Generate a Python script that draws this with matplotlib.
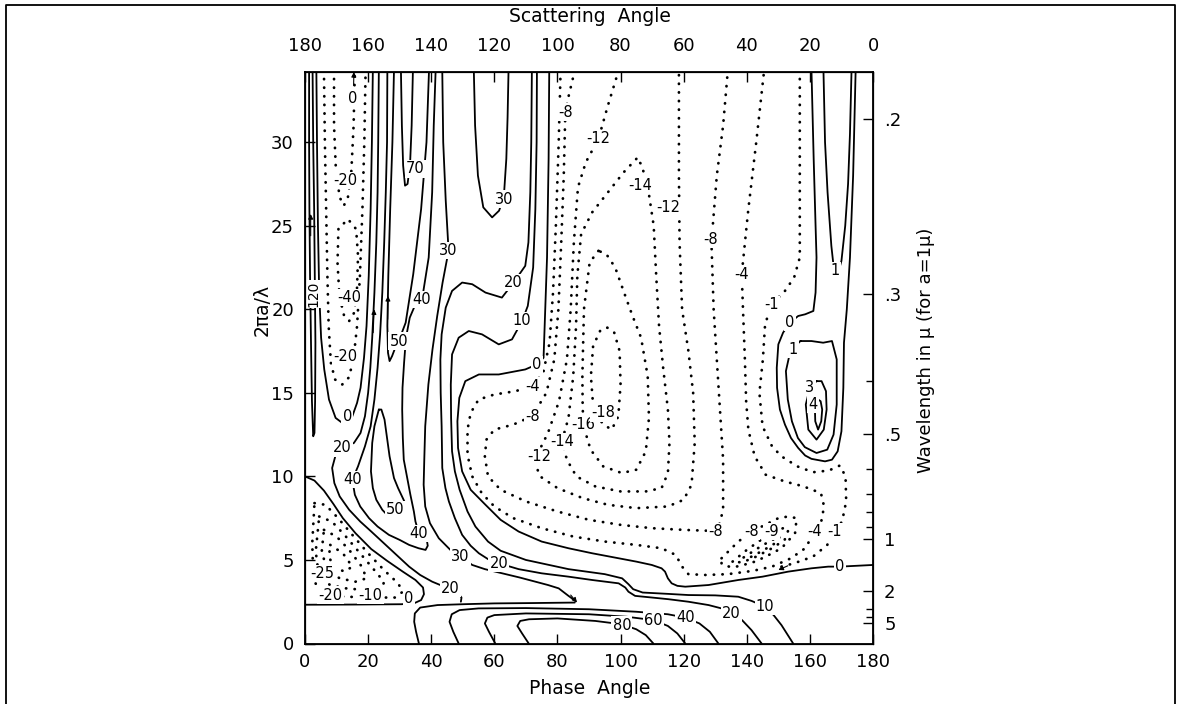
import matplotlib
matplotlib.use("Agg")
import matplotlib.pyplot as plt
from matplotlib.lines import Line2D

W, H = 1177, 704

# ---- isolines: (phase angle [deg], 2*pi*a/lambda) ----
# upper-left band
pos_spine20 = [(1.3, 34.3), (1.3, 30), (1.4, 26), (1.6, 22), (1.9, 18), (2.2, 14.5), (2.6, 12.4),
               (3.0, 12.6), (3.2, 14.5), (3.3, 18), (3.1, 22), (2.9, 26), (2.6, 30), (2.4, 34.3)]
zero_left_u = [(3.6, 34.3), (3.8, 30), (4.1, 25), (4.5, 21), (5.1, 18.3), (6.1, 16.4), (7.6, 14.6),
               (9.7, 13.5), (11.8, 13.2), (13.4, 13.3), (15.0, 13.6), (16.5, 14.4), (17.6, 15.3),
               (18.7, 17.1), (19.5, 19), (20.2, 22), (20.8, 26), (21.2, 30), (21.5, 34.3)]
neg20_outer = [(6.0, 34.3), (6.3, 30), (6.7, 26), (7.1, 22), (7.5, 19), (8.2, 16.8), (9.5, 15.8),
               (11.8, 15.5), (13.8, 15.9), (15.3, 16.9), (16.5, 19), (17.4, 22), (18.2, 26),
               (18.8, 30), (19.2, 34.3)]
neg40_loop = [(10.6, 24.8), (10.3, 22.8), (10.9, 20.8), (12.4, 19.6), (14.0, 19.3), (15.6, 19.8),
              (16.5, 21.3), (16.8, 23.2), (16.2, 24.8), (13.6, 25.4), (10.6, 24.8)]
neg20_top = [(9.2, 34.3), (9.2, 31), (9.8, 28.3), (11.0, 26.7), (12.3, 26.2), (13.6, 26.7),
             (14.7, 28.3), (15.4, 31), (15.8, 34.3)]
c20_chevron = [(23.4, 34.3), (23.2, 30), (23.0, 27), (22.6, 24), (22.0, 21), (21.3, 18.3), (20.7, 16.5),
               (20.0, 15.0), (19.0, 13.6), (17.6, 12.6), (15.5, 12.0), (11.8, 11.7), (9.6, 11.2),
               (8.6, 10.5), (9.3, 9.6), (11.0, 8.8), (14.0, 8.0), (17.5, 7.3), (21.0, 6.7), (25.0, 6.0),
               (29.0, 5.3), (33.0, 4.6), (36.5, 4.1), (40.3, 3.7), (43.5, 3.45), (46.1, 3.3),
               (48.5, 3.0), (49.6, 2.75), (49.4, 2.5)]
c40_loop = [(26.1, 34.3), (26.0, 30), (25.6, 27), (25.1, 24), (24.5, 21), (23.8, 18.5), (23.0, 16.5),
            (22.0, 14.6), (20.8, 13.0), (19.0, 11.8), (16.8, 10.6), (15.0, 9.8), (15.8, 8.9),
            (17.5, 8.2), (20.3, 7.5), (23.0, 7.0), (26.6, 6.5), (30.0, 6.2), (33.0, 5.9), (36.0, 5.7),
            (38.2, 5.6), (38.9, 5.85), (38.5, 6.3), (36.1, 6.6), (35.0, 7.3), (34.5, 7.9), (33.4, 8.9),
            (32.4, 9.9), (31.3, 11.0), (31.0, 12.3), (30.8, 14.0), (30.9, 15.3), (31.4, 16.8),
            (32.0, 18.3), (33.2, 19.5), (35.0, 20.3), (37.1, 20.6), (39.2, 23.1), (40.3, 27.0),
            (40.8, 31.0), (41.4, 34.3)]
c50_drop = [(23.4, 14.0), (22.0, 13.0), (21.3, 12.0), (20.9, 10.3), (21.5, 9.3), (22.6, 8.6),
            (24.5, 8.0), (26.5, 7.6), (28.7, 7.6), (31.0, 8.0), (31.5, 8.5), (29.5, 9.3), (28.2, 9.9),
            (26.8, 11.2), (26.0, 12.3), (25.2, 13.4), (24.2, 14.0), (23.4, 14.0)]
c50_u = [(28.2, 34.3), (27.7, 30), (27.0, 26), (26.4, 22), (26.1, 19), (26.3, 17.4), (26.8, 16.9),
         (27.6, 17.2), (29.0, 17.9), (29.7, 18.1), (31.9, 19.2), (34.3, 22.1), (36.8, 26.0),
         (38.5, 30.0), (39.3, 34.3)]
c70_u = [(30.4, 34.3), (30.7, 31), (31.1, 28.6), (31.7, 27.4), (32.5, 27.5), (33.3, 28.7),
         (33.8, 31), (34.2, 34.3)]
c30_line = [(43.5, 34.3), (43.8, 30), (44.6, 26.5), (45.5, 23.5), (43.6, 21.6), (41.9, 19.6),
            (40.4, 17.6), (39.1, 15.5), (38.1, 13.0), (37.8, 11.0), (37.6, 9.5), (38.1, 8.2),
            (39.6, 7.2), (42.4, 6.3), (46.6, 5.5), (49.3, 5.2), (53.0, 4.7), (57.0, 4.45),
            (62.5, 4.2), (68.0, 3.95), (73.0, 3.7), (77.0, 3.5), (80.4, 3.3), (83.5, 2.85), (85.7, 2.55)]
c30_u = [(53.5, 34.3), (53.9, 31), (54.8, 28), (56.5, 26.1), (59.3, 25.5), (61.5, 25.9), (63.0, 26.7),
         (63.8, 29), (64.2, 31.5), (64.5, 34.3)]
c20_wave = [(71.9, 34.3), (71.7, 30), (71.4, 27), (70.8, 24), (69.8, 22.6), (66.1, 21.6), (62.4, 20.7),
            (57.2, 21.0), (53.0, 21.5), (49.8, 21.6), (46.6, 21.1), (44.6, 20.1), (43.3, 18.5),
            (42.9, 17.0), (43.0, 15.0), (43.3, 13.0), (43.5, 10.5), (44.5, 9.3), (45.6, 8.5),
            (47.5, 7.5), (49.8, 6.5), (52.5, 5.85), (55.1, 5.4), (58.0, 5.05), (61.4, 4.8),
            (67.7, 4.45), (75.0, 4.2), (83.5, 4.0), (91.0, 3.8), (99.4, 3.6), (101.5, 3.35),
            (102.5, 3.1), (104.6, 2.85), (110.0, 2.75), (115.2, 2.65), (121.5, 2.5), (127.9, 2.3),
            (132.0, 2.1), (135.2, 1.8), (138.5, 1.4), (141.5, 0.8), (144.7, 0.0)]
c10_wave = [(73.5, 34.3), (73.4, 30), (73.0, 26), (72.3, 22.5), (70.6, 20.2), (68.8, 19.3),
            (65.6, 18.2), (61.4, 17.9), (56.1, 18.5), (51.9, 18.7), (48.7, 18.3), (46.6, 17.3),
            (46.2, 15.5), (46.3, 13.5), (46.6, 11.5), (47.5, 10.3), (49.0, 9.2), (51.5, 7.9),
            (54.0, 7.0), (58.0, 6.1), (62.0, 5.55), (70.0, 5.0), (83.5, 4.45), (95.0, 4.15),
            (100.5, 3.9), (102.5, 3.55), (104.0, 3.25), (107.0, 3.05), (115.0, 2.97), (121.5, 2.9),
            (130.0, 2.88), (137.3, 2.8), (141.5, 2.55), (145.8, 2.2), (148.5, 1.7), (151.0, 1.1),
            (154.7, 0.0)]
c0_mid = [(77.4, 34.3), (77.2, 29), (76.7, 23.1), (75.6, 17.1), (73.5, 16.7), (69.8, 16.4),
          (61.4, 16.1), (55.1, 16.1), (50.8, 15.7), (48.9, 14.7), (48.3, 13.3), (48.5, 11.7),
          (49.8, 10.3), (52.5, 9.2), (57.2, 8.3), (62.0, 7.4), (67.7, 6.7), (75.0, 6.1), (83.5, 5.7),
          (91.0, 5.4), (99.4, 5.1), (105.0, 4.9), (109.9, 4.7), (113.0, 4.5), (114.1, 4.3),
          (115.0, 3.9), (116.2, 3.6), (118.0, 3.45), (120.5, 3.4), (127.9, 3.5), (137.3, 3.8),
          (145.0, 4.0), (153.1, 4.3), (160.5, 4.5), (165.8, 4.6), (169.5, 4.6), (180.0, 4.7)]

# lower-left negative pocket
zero_lowleft = [(0.0, 10.0), (3.0, 9.75), (6.0, 9.15), (9.0, 8.35), (12.0, 7.5), (16.0, 6.6),
                (21.0, 5.65), (26.0, 4.95), (31.0, 4.3), (35.0, 3.8), (37.4, 3.35), (37.7, 2.95),
                (36.8, 2.6), (34.5, 2.4), (30.5, 2.35), (15.0, 2.33), (0.0, 2.32)]
neg10_ll = [(3.0, 8.4), (6.5, 8.3), (10.5, 7.5), (15.0, 6.5), (20.0, 5.4), (25.0, 4.4), (29.5, 3.6),
            (31.0, 3.1), (28.5, 2.75), (20.8, 2.75), (13.0, 2.8), (8.1, 2.85), (4.5, 3.0),
            (2.6, 4.0), (2.3, 6.0), (3.0, 8.4)]
neg20_ll = [(4.5, 7.6), (8.5, 7.3), (12.5, 6.5), (17.0, 5.5), (21.5, 4.5), (25.0, 3.7), (24.5, 3.2),
            (19.0, 3.2), (13.0, 3.3), (8.0, 3.5), (4.5, 3.9), (3.4, 5.5), (4.5, 7.6)]
neg25_ll = [(6.0, 6.8), (10.0, 6.4), (14.0, 5.6), (18.0, 4.6), (19.5, 3.9), (16.0, 3.7), (11.0, 3.9),
            (7.0, 4.4), (5.3, 5.5), (6.0, 6.8)]
neg30_ll = [(8.0, 5.9), (12.0, 5.4), (15.0, 4.6), (12.5, 4.3), (9.0, 4.6), (7.6, 5.2), (8.0, 5.9)]

# bottom arches (small particles)
c30_arch = [(36.1, 0.0), (35.2, 0.7), (34.6, 1.3), (34.8, 1.8), (36.5, 2.15), (42.0, 2.3),
            (50.0, 2.35), (60.0, 2.4), (72.0, 2.42), (85.5, 2.45)]
c40_arch = [(48.7, 0.0), (47.0, 0.7), (45.8, 1.3), (46.5, 1.75), (49.0, 2.0), (55.0, 2.1), (70.0, 2.12),
            (90.0, 2.05), (105.0, 1.9), (115.0, 1.75), (120.5, 1.55), (125.0, 1.2), (128.3, 0.7),
            (131.0, 0.0)]
c60_arch = [(60.3, 0.0), (58.3, 0.7), (57.0, 1.2), (57.8, 1.55), (60.0, 1.7), (70.0, 1.8), (90.0, 1.75),
            (102.0, 1.6), (110.4, 1.4), (115.0, 1.05), (118.0, 0.6), (120.5, 0.0)]
c80_arch = [(70.9, 0.0), (68.8, 0.6), (67.3, 1.05), (68.2, 1.35), (71.0, 1.45), (80.0, 1.5),
            (92.0, 1.35), (100.4, 1.15), (105.0, 0.85), (108.0, 0.5), (110.4, 0.0)]

# central negative basin
neg4 = [(81.0, 34.3), (80.4, 30), (79.5, 25), (78.6, 21), (77.5, 18), (75.5, 16.2), (72.0, 15.4),
        (66.7, 15.1), (60.0, 14.9), (55.0, 14.6), (52.5, 13.8), (51.5, 12.8), (51.5, 11.3), (53.0, 10.0),
        (56.0, 9.0), (60.0, 8.2), (66.0, 7.5), (75.0, 6.9), (85.0, 6.4), (95.0, 6.1), (105.0, 5.9),
        (113.0, 5.7), (117.5, 5.3), (119.5, 4.6), (121.5, 4.15), (127.0, 4.1), (134.0, 4.15),
        (142.0, 4.35), (148.0, 4.6), (154.0, 5.1), (158.5, 5.7), (161.6, 6.7), (163.6, 7.3),
        (164.5, 8.2), (163.5, 9.0), (158.0, 9.4), (152.0, 9.7), (146.0, 10.1), (142.5, 11.2),
        (140.5, 12.8), (139.8, 14.5), (139.4, 17.0), (138.8, 20.0), (138.4, 22.1), (140.5, 26.0),
        (143.0, 30.0), (145.5, 34.3)]
neg8 = [(85.5, 34.3), (83.6, 32.8), (82.5, 31.8), (82.0, 28.0), (81.2, 24.0), (80.3, 20.0), (79.0, 17.0),
        (76.5, 15.0), (72.0, 13.6), (66.0, 13.1), (60.0, 12.8), (57.5, 12.2), (57.0, 11.2), (58.0, 10.0),
        (62.0, 9.2), (70.0, 8.5), (80.0, 7.9), (90.0, 7.4), (100.0, 7.1), (110.0, 6.9), (120.0, 6.8),
        (127.0, 6.75), (131.0, 6.9), (132.5, 8.0), (132.5, 11.0), (131.5, 14.0), (130.5, 17.0),
        (129.5, 20.0), (128.8, 24.0), (130.5, 28.0), (132.5, 31.0), (134.0, 34.3)]
neg12 = [(99.4, 34.3), (96.0, 32.2), (93.0, 30.2), (89.0, 28.8), (86.5, 27.3), (85.2, 24.0), (84.2, 20.0),
         (83.0, 17.0), (80.5, 14.5), (77.0, 12.6), (74.1, 11.5), (72.9, 10.8), (74.5, 10.0), (80.0, 9.3),
         (88.0, 8.7), (96.0, 8.3), (105.0, 8.1), (115.0, 8.2), (120.0, 8.6), (122.5, 9.5), (123.5, 12.0),
         (123.0, 15.0), (121.5, 17.5), (119.5, 20.0), (118.7, 24.0), (118.5, 28.0), (118.5, 34.3)]
neg14 = [(105.0, 29.0), (101.0, 28.2), (96.0, 27.0), (91.0, 25.8), (87.5, 24.5), (86.3, 22.0),
         (85.9, 19.0), (85.0, 16.0), (83.5, 13.5), (81.4, 12.1), (83.0, 11.0), (86.0, 10.0), (92.0, 9.4),
         (100.0, 9.1), (108.0, 9.1), (113.0, 9.3), (115.0, 10.2), (115.5, 12.0), (115.0, 14.0),
         (113.5, 16.5), (112.2, 19.0), (111.3, 22.0), (110.5, 25.0), (108.5, 27.5), (106.5, 28.7),
         (105.0, 29.0)]
neg16 = [(93.0, 23.5), (90.2, 22.8), (88.4, 20.0), (87.9, 16.0), (88.0, 14.0), (88.6, 12.8), (90.5, 11.6),
         (94.5, 10.6), (100.4, 10.2), (105.0, 10.4), (108.0, 11.5), (109.0, 13.5), (108.6, 16.0),
         (106.5, 18.3), (103.8, 19.6), (101.5, 20.8), (98.3, 22.5), (95.5, 23.3), (93.0, 23.5)]
neg18 = [(93.5, 18.7), (91.3, 17.8), (90.6, 16.0), (91.2, 14.5), (92.6, 13.6), (94.6, 13.1), (97.2, 12.8),
         (99.3, 13.6), (100.0, 15.5), (99.7, 17.5), (98.0, 18.6), (95.8, 18.9), (93.5, 18.7)]
neg8_small = [(132.0, 5.1), (137.3, 6.1), (141.6, 6.7), (145.8, 7.1), (150.0, 7.5), (153.1, 7.6),
              (155.8, 7.5), (155.3, 6.6), (151.0, 5.7), (146.0, 5.2), (142.6, 4.9), (138.0, 4.65),
              (135.2, 4.55), (132.0, 4.75), (132.0, 5.1)]
neg9_small = [(135.5, 4.9), (140.0, 5.6), (144.5, 6.2), (147.9, 6.6), (151.5, 6.9), (153.3, 6.85),
              (152.0, 6.2), (148.0, 5.7), (143.0, 5.2), (138.5, 4.85), (135.5, 4.9)]
neg10_small = [(139.0, 5.15), (143.5, 5.7), (147.5, 6.15), (150.5, 6.4), (149.0, 6.0), (145.0, 5.55),
               (141.0, 5.15), (139.0, 5.15)]

# near-forward lobe
neg1 = [(156.8, 34.3), (156.8, 28), (156.8, 23.1), (155.0, 21.9), (152.1, 21.1), (147.9, 20.3),
        (145.8, 19.1), (145.1, 17.0), (144.0, 15.0), (145.0, 13.0), (148.0, 11.8), (151.0, 11.2),
        (156.0, 10.6), (161.0, 10.25), (166.0, 10.35), (169.5, 10.65), (171.3, 10.0), (171.5, 8.5),
        (170.2, 7.3), (167.9, 6.7), (165.5, 5.9), (161.0, 5.2), (155.0, 4.8), (149.0, 4.5)]
zero_lobe = [(160.5, 34.3), (161.2, 29), (161.8, 25), (162.1, 23.1), (161.8, 21), (161.1, 19.9),
             (158.5, 19.7), (156.3, 19.6), (153.7, 19.2), (151.5, 18.6), (150.0, 17.9), (149.5, 16.5),
             (149.6, 15.3), (150.5, 14.0), (152.1, 13.1), (154.0, 12.3), (156.3, 11.7), (158.5, 11.25),
             (160.5, 11.05), (164.8, 10.9), (167.0, 11.0), (168.8, 11.5), (170.0, 12.7), (170.6, 15.3),
             (170.8, 18.0), (171.7, 20.0), (172.7, 23.1), (173.7, 28.0), (174.5, 34.3)]
one_u = [(164.3, 34.3), (164.8, 30), (165.6, 27), (166.8, 23.8), (167.9, 21.9), (169.0, 22.2),
         (170.0, 22.9), (171.2, 25.0), (172.1, 27.5), (172.7, 30.5), (173.2, 34.3)]
one_loop = [(157.0, 18.1), (153.8, 17.5), (152.4, 16.3), (153.0, 14.6), (154.3, 13.3), (156.2, 12.3),
            (158.4, 11.75), (162.1, 11.4), (165.5, 11.6), (167.5, 12.5), (168.5, 14.3), (168.5, 17.0),
            (167.0, 18.1), (164.2, 18.0), (160.5, 18.1), (157.0, 18.1)]
three_loop = [(162.1, 15.7), (160.0, 15.3), (158.7, 14.3), (159.5, 12.8), (162.1, 12.2), (164.4, 12.8),
              (165.3, 14.0), (165.1, 15.1), (163.7, 15.7), (162.1, 15.7)]
four_loop = [(162.6, 14.6), (161.6, 14.0), (161.7, 13.3), (162.6, 12.8), (163.6, 13.3), (163.9, 14.0),
             (163.4, 14.5), (162.6, 14.6)]

curves = [
    (20, pos_spine20), (0, zero_left_u), (-20, neg20_outer), (-40, neg40_loop), (-20, neg20_top),
    (20, c20_chevron), (40, c40_loop), (50, c50_drop), (50, c50_u), (70, c70_u), (30, c30_line),
    (30, c30_u), (20, c20_wave), (10, c10_wave), (0, c0_mid),
    (0, zero_lowleft), (-10, neg10_ll), (-20, neg20_ll), (-25, neg25_ll), (-30, neg30_ll),
    (30, c30_arch), (40, c40_arch), (60, c60_arch), (80, c80_arch),
    (-4, neg4), (-8, neg8), (-12, neg12), (-14, neg14), (-16, neg16), (-18, neg18),
    (-8, neg8_small), (-9, neg9_small), (-10, neg10_small),
    (-1, neg1), (0, zero_lobe), (1, one_u), (1, one_loop), (3, three_loop), (4, four_loop),
]

# contour labels as lettered on the original
label_text = ["0", "-20", "70", "30", "30", "40", "50", "20", "10", "-40", "-20", "0", "20", "40",
              "50", "40", "30", "20", "20", "0", "-25", "-20", "-10",
              "-8", "-12", "-14", "-12", "-8", "-4", "-1", "0", "1", "1", "3", "4",
              "0", "-4", "-8", "-12", "-14", "-16", "-18",
              "-8", "-8", "-9", "-4", "-1", "0", "10", "20", "40", "60", "80"]
label_phase = [15.0, 12.8, 35.0, 63.2, 45.5, 37.1, 29.7, 66.1, 68.8, 14.0, 12.8, 13.4, 11.8, 15.0,
               28.7, 36.1, 49.3, 61.4, 46.1, 32.9, 5.5, 8.1, 20.8,
               82.5, 93.0, 106.2, 115.2, 128.4, 138.4, 147.9, 153.7, 167.9, 154.7, 160.0, 161.0,
               73.5, 72.0, 72.0, 74.1, 81.4, 88.3, 94.6,
               130.0, 141.6, 147.9, 161.6, 167.9, 169.5, 145.8, 135.2, 120.5, 110.4, 100.4]
label_size = [32.6, 27.7, 28.4, 26.6, 23.5, 20.6, 18.1, 21.6, 19.3, 20.7, 17.2, 13.6, 11.7, 9.8,
              8.0, 6.6, 5.2, 4.8, 3.3, 2.7, 4.2, 2.9, 2.9,
              31.8, 30.2, 27.4, 26.1, 24.2, 22.1, 20.3, 19.2, 22.3, 17.6, 15.3, 14.3,
              16.7, 15.4, 13.6, 11.2, 12.1, 13.1, 13.8,
              6.7, 6.7, 6.7, 6.7, 6.7, 4.6, 2.2, 1.8, 1.55, 1.4, 1.1]

# little guide arrows drawn on the original (tail -> head)
arrow_tail = [(1.8, 24.4), (21.6, 18.6), (26.2, 19.4), (84.2, 2.9), (153.0, 4.65), (15.4, 33.4)]
arrow_head = [(1.8, 25.7), (21.9, 20.0), (26.3, 20.8), (86.2, 2.45), (150.0, 4.4), (15.5, 34.2)]

phase_ticks = list(range(0, 181, 20))
size_ticks = list(range(0, 31, 5))
wavelength_labels = [".2", ".3", ".5", "1", "2", "5"]
wavelength_values = [0.2, 0.3, 0.5, 1.0, 2.0, 5.0]
wavelength_minor = [0.4, 0.6, 0.7, 0.8, 0.9, 3.0, 4.0]

TWO_PI = 6.283185307

fig = plt.figure(figsize=(W / 100, H / 100), dpi=100)
ax = fig.add_axes([305 / W, 1 - 643.5 / H, 568 / W, 571.5 / H])
ax.set_xlim(0, 180)
ax.set_ylim(0, 34.2)

for level, pts in curves:
    xs = [p[0] for p in pts]
    ys = [p[1] for p in pts]
    if level < 0:
        ax.plot(xs, ys, color="black", lw=2.0, linestyle=(0, (0.1, 3.0)),
                dash_capstyle="round", zorder=2)
    else:
        ax.plot(xs, ys, color="black", lw=1.3, solid_capstyle="round", zorder=2)

for t, x, y in zip(label_text, label_phase, label_size):
    ax.text(x, y, t, ha="center", va="center", fontsize=10.5, zorder=4,
            bbox=dict(boxstyle="square,pad=0.08", fc="white", ec="none"))
ax.text(2.8, 20.9, "120", rotation=90, ha="center", va="center", fontsize=10, zorder=4,
        bbox=dict(boxstyle="square,pad=0.05", fc="white", ec="none"))

for (x0, y0), (x1, y1) in zip(arrow_tail, arrow_head):
    ax.annotate("", xy=(x1, y1), xytext=(x0, y0), zorder=3,
                arrowprops=dict(arrowstyle="-|>", color="black", lw=0.8, mutation_scale=7,
                                shrinkA=0, shrinkB=0))

# bottom / left axes
ax.set_xticks(phase_ticks)
ax.set_yticks(size_ticks)
ax.tick_params(direction="in", length=7, width=1.0, labelsize=13)
ax.tick_params(axis="x", pad=7)
ax.tick_params(axis="y", pad=8)
for sp in ax.spines.values():
    sp.set_linewidth(1.3)

# top axis: scattering angle
ax_top = ax.twiny()
ax_top.set_xlim(0, 180)
ax_top.set_xticks(phase_ticks)
ax_top.set_xticklabels([str(180 - p) for p in phase_ticks])
ax_top.tick_params(direction="in", length=7, width=1.0, labelsize=13, pad=12)

# right axis: wavelength for a = 1 micron
ax_r = ax.twinx()
ax_r.set_ylim(0, 34.2)
ax_r.set_yticks([TWO_PI / w for w in wavelength_values])
ax_r.set_yticklabels(wavelength_labels)
ax_r.set_yticks([TWO_PI / w for w in wavelength_minor], minor=True)
ax_r.tick_params(direction="in", length=7, width=1.0, labelsize=13, pad=8)
ax_r.tick_params(which="minor", direction="in", length=5, width=1.0)

fig.text(590 / W, 1 - 17 / H, "Scattering  Angle", ha="center", va="center", fontsize=13.5)
fig.text(590 / W, 1 - 689 / H, "Phase  Angle", ha="center", va="center", fontsize=13.5)
fig.text(262 / W, 1 - 310 / H, "2\u03c0a/\u03bb", rotation=90, ha="center", va="center", fontsize=13.5)
fig.text(926 / W, 1 - 350 / H, "Wavelength in \u03bc (for a=1\u03bc)", rotation=90,
         ha="center", va="center", fontsize=13)

# outer frame of the scanned page
fig.add_artist(Line2D([6 / W, 6 / W, 1175 / W, 1175 / W], [0, 1 - 5 / H, 1 - 5 / H, 0],
                      transform=fig.transFigure, color="black", lw=1.3))

fig.savefig("out.png", dpi=100, facecolor="white")
